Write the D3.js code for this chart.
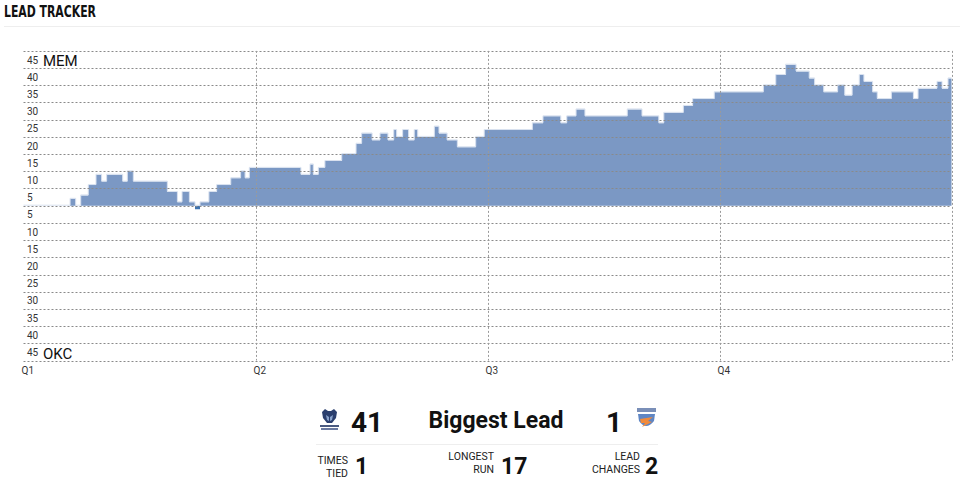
<!DOCTYPE html>
<html>
<head>
<meta charset="utf-8">
<script src="https://cdn.jsdelivr.net/npm/d3@7"></script>
<style>
  body { margin: 0; background: #fff; }
  svg { display: block; }
</style>
</head>
<body>
<svg id="chart"></svg>
<script>
const width = 960;
const height = 486;

// lead changes: minute of game where a new lead value starts (MEM +, OKC -)
const changeMinutes = [0, 2.41, 2.70, 2.96, 3.35, 3.75, 4.04, 4.30, 5.13, 5.37, 5.68, 7.44, 7.96, 8.20, 8.58, 8.87, 9.13, 9.59, 9.99, 10.72, 11.23, 11.46, 11.68,
  14.35, 14.82, 14.99, 15.25, 15.59, 16.46, 17.20, 17.49, 18.03, 18.44, 18.85, 19.15, 19.30, 19.61, 19.92, 20.21, 20.39, 21.25, 21.49, 21.91, 22.44, 23.39, 23.83,
  26.32, 26.87, 27.79, 28.10, 28.58, 29.04, 31.23, 31.99, 32.86, 33.12, 34.13, 34.61, 35.73,
  38.27, 38.91, 39.42, 39.96, 40.64, 40.92, 41.39, 42.11, 42.48, 42.86, 43.23, 43.47, 43.92, 44.16, 44.89, 46.03, 46.27, 47.25, 47.51, 47.82];
const leads = [0, 2, 0, 3, 6, 9, 7, 9, 7, 10, 7, 4, 1, 4, 1, -1, 1, 4, 6, 8, 10, 8, 11,
  9, 12, 9, 11, 13, 15, 18, 21, 19, 21, 19, 22, 20, 22, 19, 22, 20, 23, 21, 19, 17, 20, 22,
  24, 26, 24, 26, 28, 26, 28, 26, 24, 27, 29, 31, 33,
  35, 38, 41, 39, 37, 35, 33, 35, 32, 35, 38, 36, 33, 31, 33, 31, 34, 36, 34, 37];
const gameLength = 48;

const quarterLabels = ['Q1', 'Q2', 'Q3', 'Q4'];
const quarterStarts = [0, 12, 24, 36];
const gridValues = [-45, -40, -35, -30, -25, -20, -15, -10, -5, 0, 5, 10, 15, 20, 25, 30, 35, 40, 45];

const homeTeam = 'MEM';
const awayTeam = 'OKC';
const biggestLead = [41, 1];
const statLabels = [['TIMES', 'TIED'], ['LONGEST', 'RUN'], ['LEAD', 'CHANGES']];
const statValues = [1, 17, 2];

const svg = d3.select('#chart')
    .attr('width', width)
    .attr('height', height)
    .style('font-family', 'Roboto, sans-serif');

// title
svg.append('text')
    .attr('x', 4)
    .attr('y', 17)
    .attr('font-family', '"DejaVu Sans", sans-serif')
    .attr('font-weight', 'bold')
    .attr('font-size', 16.5)
    .attr('textLength', 92)
    .attr('lengthAdjust', 'spacingAndGlyphs')
    .attr('fill', '#111')
    .text('LEAD TRACKER');

svg.append('line')
    .attr('x1', 4).attr('x2', 960)
    .attr('y1', 26.5).attr('y2', 26.5)
    .attr('stroke', '#eee');

const x = d3.scaleLinear().domain([0, gameLength]).range([23.5, 951.5]);
const y = d3.scaleLinear().domain([-45, 45]).range([360.5, 50.9]);

const points = changeMinutes.map((m, i) => ({ t: m, lead: leads[i] }));
points.push({ t: gameLength, lead: leads[leads.length - 1] });

const areaPos = d3.area()
    .curve(d3.curveStepAfter)
    .x(d => x(d.t))
    .y0(y(0))
    .y1(d => y(Math.max(0, d.lead)));
const areaNeg = d3.area()
    .curve(d3.curveStepAfter)
    .x(d => x(d.t))
    .y0(y(0))
    .y1(d => y(Math.min(0, d.lead)));
const topLine = d3.line()
    .curve(d3.curveStepAfter)
    .x(d => x(d.t))
    .y(d => y(Math.max(0, d.lead)) - 0.5);

const bars_g = svg.append('g').attr('id', 'bars_g');
bars_g.append('path')
    .datum(points)
    .attr('d', areaPos)
    .attr('fill', '#7b98c4');
bars_g.append('path')
    .datum(points)
    .attr('d', areaNeg)
    .attr('fill', '#3f74b0');
bars_g.append('path')
    .datum(points)
    .attr('d', topLine)
    .attr('fill', 'none')
    .attr('stroke', '#d8e1ef')
    .attr('stroke-width', 1);

// grid
const grid_g = svg.append('g').attr('id', 'grid_g');
grid_g.selectAll('.hline')
    .data(gridValues)
    .enter().append('line')
    .attr('class', 'hline')
    .attr('x1', x(0)).attr('x2', x(gameLength))
    .attr('y1', d => Math.round(y(d)) + 0.5)
    .attr('y2', d => Math.round(y(d)) + 0.5)
    .attr('stroke', '#8a8a8a')
    .attr('stroke-dasharray', '2,2');

grid_g.selectAll('.vline')
    .data(quarterStarts.slice(1).concat([gameLength]))
    .enter().append('line')
    .attr('class', 'vline')
    .attr('x1', d => Math.round(x(d)) + 0.5)
    .attr('x2', d => Math.round(x(d)) + 0.5)
    .attr('y1', y(45)).attr('y2', y(-45))
    .attr('stroke', '#9a9a9a')
    .attr('stroke-dasharray', '2,2');

// y labels sit in the middle of the band under (MEM) or above (OKC) their line
const band = (y(0) - y(5)) / 2;
svg.selectAll('.ylabel')
    .data(gridValues.filter(d => d !== 0))
    .enter().append('text')
    .attr('class', 'ylabel')
    .attr('x', 27)
    .attr('y', d => d > 0 ? y(d) + band : y(d) - band)
    .attr('dy', '0.4em')
    .attr('font-size', 10)
    .attr('fill', '#333')
    .text(d => Math.abs(d));

svg.append('text')
    .attr('x', 43).attr('y', y(45) + band).attr('dy', '0.45em')
    .attr('font-size', 15).attr('fill', '#111')
    .text(homeTeam);
svg.append('text')
    .attr('x', 43).attr('y', y(-45) - band).attr('dy', '0.45em')
    .attr('font-size', 15).attr('fill', '#111')
    .text(awayTeam);

svg.selectAll('.qlabel')
    .data(quarterLabels)
    .enter().append('text')
    .attr('class', 'qlabel')
    .attr('x', (d, i) => x(quarterStarts[i]) - 2)
    .attr('y', 374)
    .attr('font-size', 10)
    .attr('fill', '#333')
    .text(d => d);

// summary
const stats_g = svg.append('g').attr('id', 'stats_g');

stats_g.append('text')
    .attr('x', 351).attr('y', 431.7)
    .attr('font-size', 28).attr('font-weight', 'bold').attr('fill', '#111')
    .text(biggestLead[0]);
stats_g.append('text')
    .attr('x', 496).attr('y', 427.5)
    .attr('text-anchor', 'middle')
    .attr('font-size', 23).attr('font-weight', 'bold').attr('fill', '#111')
    .text('Biggest Lead');
stats_g.append('text')
    .attr('x', 622).attr('y', 431.7)
    .attr('text-anchor', 'end')
    .attr('font-size', 28).attr('font-weight', 'bold').attr('fill', '#111')
    .text(biggestLead[1]);

// grizzlies mark
const griz = stats_g.append('g').attr('transform', 'translate(320,409)');
griz.append('path')
    .attr('d', 'M2,3 L5,0 L8,2 L11,2 L14,0 L17,3 L16,9 L12,14 L7,14 L3,9 Z')
    .attr('fill', '#2b3f6e');
griz.append('path')
    .attr('d', 'M6,6 L9,8 L9,12 L7,11 Z M13,6 L10,8 L10,12 L12,11 Z')
    .attr('fill', '#8aa3cc');
griz.append('rect').attr('x', 0).attr('y', 16).attr('width', 19).attr('height', 2).attr('fill', '#4a5a80');
griz.append('rect').attr('x', 1).attr('y', 19).attr('width', 17).attr('height', 2).attr('fill', '#6b7aa0');

// thunder mark
const okc = stats_g.append('g').attr('transform', 'translate(636,407)');
okc.append('rect').attr('x', 1).attr('y', 1).attr('width', 19).attr('height', 4).attr('fill', '#7a8fb8');
okc.append('path')
    .attr('d', 'M2,7 L19,7 L18,14 Q10,24 3,14 Z')
    .attr('fill', '#5f86c4');
okc.append('path')
    .attr('d', 'M4,12 L17,10 L12,14 L16,15 L6,20 L9,16 L5,16 Z')
    .attr('fill', '#f08a3c');

stats_g.append('line')
    .attr('x1', 316).attr('x2', 658)
    .attr('y1', 444.5).attr('y2', 444.5)
    .attr('stroke', '#eee');

const labelRight = [348, 494, 640];
const labelTop = [464, 460, 460];
const valueLeft = [355, 501, 645];

statLabels.forEach((lines, i) => {
    lines.forEach((line, j) => {
        stats_g.append('text')
            .attr('x', labelRight[i])
            .attr('y', labelTop[i] + j * 12.5)
            .attr('text-anchor', 'end')
            .attr('font-size', 10.5)
            .attr('fill', '#222')
            .text(line);
    });
    stats_g.append('text')
        .attr('x', valueLeft[i])
        .attr('y', 473.5)
        .attr('font-size', 23)
        .attr('font-weight', 'bold')
        .attr('fill', '#111')
        .text(statValues[i]);
});
</script>
</body>
</html>
